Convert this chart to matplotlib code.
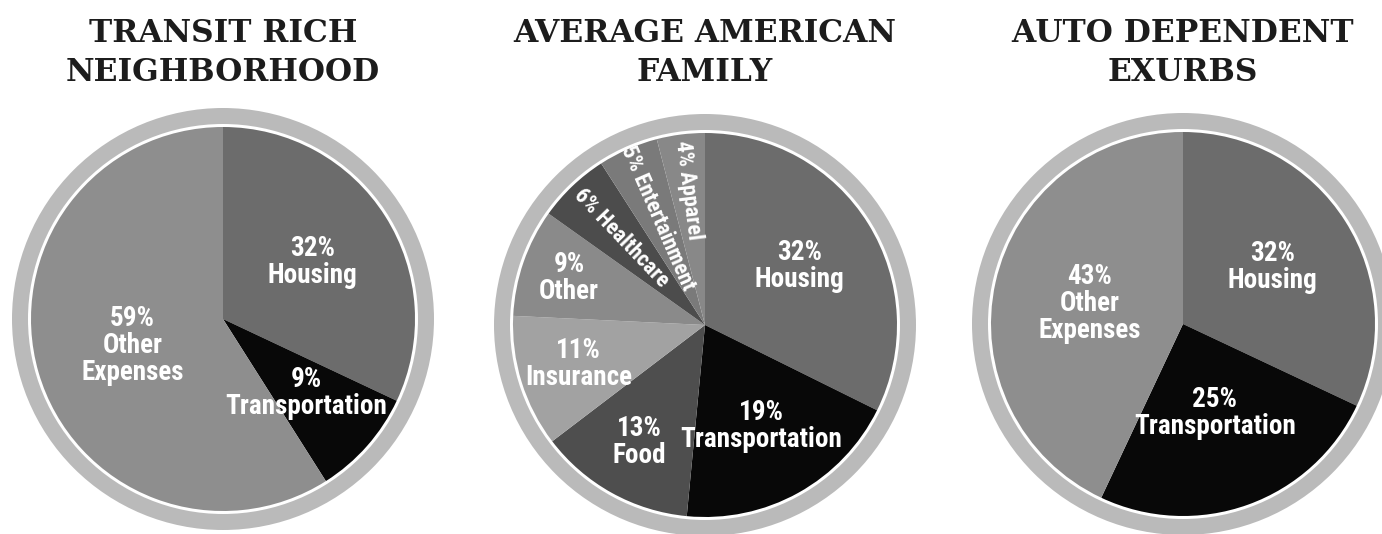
import numpy as np
import matplotlib.pyplot as plt
from matplotlib import font_manager
from matplotlib.patches import Circle

# data
titles = ["TRANSIT RICH\nNEIGHBORHOOD", "AVERAGE AMERICAN\nFAMILY", "AUTO DEPENDENT\nEXURBS"]

transit_labels = ["Housing", "Transportation", "Other\nExpenses"]
transit_values = [32, 9, 59]

average_labels = ["Housing", "Transportation", "Food", "Insurance", "Other",
                  "Healthcare", "Entertainment", "Apparel"]
average_values = [32, 19, 13, 11, 9, 6, 5, 4]

exurb_labels = ["Housing", "Transportation", "Other\nExpenses"]
exurb_values = [32, 25, 43]

# layout / style
W, H = 1382, 534
centers = [(223, H - 319), (705, H - 325), (1183, H - 324)]
R = 192
transit_colors = ["#6c6c6c", "#080808", "#8e8e8e"]
average_colors = ["#6c6c6c", "#080808", "#4e4e4e", "#a2a2a2", "#8a8a8a",
                  "#4c4c4c", "#7a7a7a", "#888888"]
exurb_colors = ["#6c6c6c", "#080808", "#8e8e8e"]
transit_rpos = [0.55, 0.58, 0.49]
average_rpos = [0.58, 0.60, 0.70, 0.69, 0.75, 0.63, 0.61, 0.71]
exurb_rpos = [0.55, 0.49, 0.50]
rotated = {"Healthcare", "Entertainment", "Apparel"}

label_font = ["Roboto Condensed", "Liberation Sans Narrow", "DejaVu Sans"]
probe = font_manager.FontProperties(family=label_font, weight="bold", stretch="condensed")
found = font_manager.findfont(probe).lower()
narrow = ("condensed" in found) or ("narrow" in found)
big_size = 19.5 if narrow else 15
small_size = 16 if narrow else 12

fig = plt.figure(figsize=(W / 100, H / 100), dpi=100)
ax = fig.add_axes([0, 0, 1, 1])

charts = [
    (transit_labels, transit_values, transit_colors, transit_rpos),
    (average_labels, average_values, average_colors, average_rpos),
    (exurb_labels, exurb_values, exurb_colors, exurb_rpos),
]

for (cx, cy), title, (labels, values, colors, rpos) in zip(centers, titles, charts):
    # outer gray ring with thin white line
    ax.add_patch(Circle((cx, cy), R + 19, facecolor="#bababa", edgecolor="none", zorder=1))
    ax.add_patch(Circle((cx, cy), R + 3, facecolor="white", edgecolor="none", zorder=2))
    wedges, _ = ax.pie(values, center=(cx, cy), radius=R, startangle=90,
                       counterclock=False, colors=colors,
                       wedgeprops=dict(linewidth=0, zorder=3), frame=True)
    for w, lab, v, rp in zip(wedges, labels, values, rpos):
        mid = np.deg2rad((w.theta1 + w.theta2) / 2)
        x = cx + rp * R * np.cos(mid)
        y = cy + rp * R * np.sin(mid)
        if lab in rotated:
            ang = np.rad2deg(mid) - 180
            ax.text(x, y, f"{v}% {lab}", rotation=ang, rotation_mode="anchor",
                    ha="center", va="center", color="white", fontsize=small_size,
                    fontweight="bold", fontstretch="condensed",
                    family=label_font, zorder=5)
        else:
            ax.text(x, y, f"{v}%\n{lab}", ha="center", va="center",
                    color="white", fontsize=big_size, fontweight="bold",
                    fontstretch="condensed", family=label_font,
                    linespacing=1.0, zorder=5)
    ax.text(cx, H - 53, title, ha="center", va="center", fontsize=22.5,
            fontweight="bold", family=["DejaVu Serif"], color="#1c1c1c",
            linespacing=1.35)

ax.set_xlim(0, W)
ax.set_ylim(0, H)
ax.set_aspect("equal")
ax.axis("off")
fig.savefig("out.png", dpi=100)
